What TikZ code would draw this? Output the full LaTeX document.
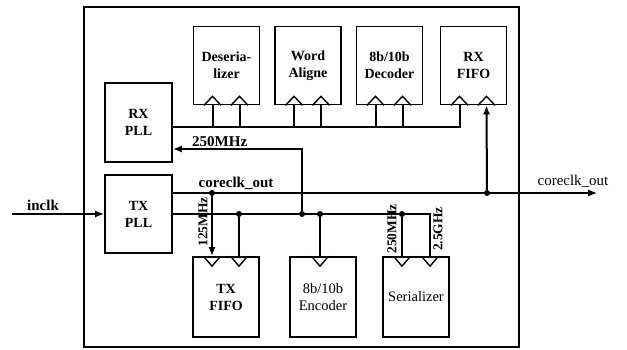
\documentclass[tikz,border=0pt]{standalone}
\usepackage{fontspec}
\setmainfont{Liberation Serif}
\usetikzlibrary{arrows.meta,positioning,calc}
\tikzset{
  blk/.style={draw, line width=1.6pt, minimum width=66pt, minimum height=78pt,
              inner sep=1pt, align=center, font=\fontsize{14}{17}\selectfont\bfseries},
  plainblk/.style={blk, font=\fontsize{14.5}{17}\selectfont},
  wire/.style={line width=2pt},
  arr/.style={-{Latex[length=9pt,width=7pt]}},
  jdot/.style={circle, fill, inner sep=0pt, minimum size=6pt},
  lbl/.style={inner sep=1pt, font=\fontsize{15}{17}\selectfont\bfseries},
  vlbl/.style={inner sep=1pt, rotate=90, font=\fontsize{13.5}{15}\selectfont\bfseries},
  clk/.style={line width=1.4pt}
}

\begin{document}
\begin{tikzpicture}[x=1pt,y=-1pt]
        \useasboundingbox (0,0) rectangle (627,349);
        \node[draw, line width=1.5pt, minimum width=435pt, minimum height=340pt,
          inner sep=0pt] (chip) at (301.5,177) {};
        \node[blk] (des) at (226.5,65.5) {Deseria-\\lizer};
        \node[blk] (wal) at (308,65.5) {Word\\Aligne};
        \node[blk] (dec) at (389.5,65.5) {8b/10b\\Decoder};
        \node[blk] (rxf) at (473.5,65.5) {RX\\FIFO};
        \node[blk, minimum width=67pt, minimum height=79pt] (rxpll) at (138.5,122.5) {RX\\PLL};
        \node[blk, minimum width=67pt] (txpll) at (138.5,214) {TX\\PLL};
        \node[blk, minimum height=80pt] (txf) at (226,297) {TX\\FIFO};
        \node[plainblk, minimum height=80pt] (enc) at (323,297) {8b/10b\\Encoder};
        \node[plainblk, minimum height=80pt] (ser) at (416,297) {Serializer};
        \foreach \b in {des,wal,dec,rxf}{
          \coordinate (\b1) at ([xshift=-14pt]\b.south);
          \coordinate (\b2) at ([xshift=13pt]\b.south);
          \foreach \c in {\b1,\b2}
            \draw[clk] ([xshift=-8.5pt]\c) -- ([yshift=9pt]\c) -- ([xshift=8.5pt]\c);
        }
        \coordinate (txf1) at ([xshift=-14pt]txf.north);
        \coordinate (txf2) at ([xshift=13pt]txf.north);
        \coordinate (enc1) at ([xshift=-3pt]enc.north);
        \coordinate (ser1) at ([xshift=-14pt]ser.north);
        \coordinate (ser2) at ([xshift=14pt]ser.north);
        \foreach \c in {txf1,txf2,enc1,ser1,ser2}
          \draw[clk] ([xshift=-8.5pt]\c) -- ([yshift=-10pt]\c) -- ([xshift=8.5pt]\c);
        \draw[wire] (rxpll.east |- 0,127) -| (rxf1);
        \foreach \c in {des1,des2,wal1,wal2,dec1,dec2}
          \draw[wire] (\c) -- (\c |- 0,127);
        \coordinate (inclk) at (12,214);
        \draw[wire, arr] (inclk) -- (txpll.west);
        \node[lbl] (linclk) at (43,205) {inclk};
        \draw[wire] (txpll.east) -- (ser2 |- txpll.east) -- (ser2);
        \node[jdot] (j250) at (302,214) {};
        \foreach \c in {txf2,enc1,ser1}{
          \node[jdot] (d\c) at (\c |- txpll.east) {};
          \draw[wire] (d\c) -- (\c);
        }
        \draw[wire, arr] (j250) -- (302,149) -- (rxpll.east |- 0,149);
        \node[lbl, anchor=south west] (l250r) at (191,148) {250MHz};
        \coordinate (ckout) at (597,193);
        \draw[wire] (txpll.east |- 0,193) -- (chip.east |- 0,193);
        \draw[line width=1.2pt, arr] (chip.east |- 0,193) -- (ckout);
        \node[jdot] (j125) at (212,193) {};
        \node[jdot] (jrx) at (487,193) {};
        \draw[wire, arr] (j125) -- (txf1);
        \draw[wire, arr] (jrx) -- (rxf2);
        \node[lbl] (lck) at (236,183) {coreclk\_out};
        \node[inner sep=1pt, font=\fontsize{15}{17}\selectfont] (lckout) at (573,181) {coreclk\_out};
        \node[vlbl] (l125) at (203,222) {125MHz};
        \node[vlbl] (l250s) at (392,229) {250MHz};
        \node[vlbl] (l25g) at (438,229) {2.5GHz};
      \end{tikzpicture}
\end{document}
